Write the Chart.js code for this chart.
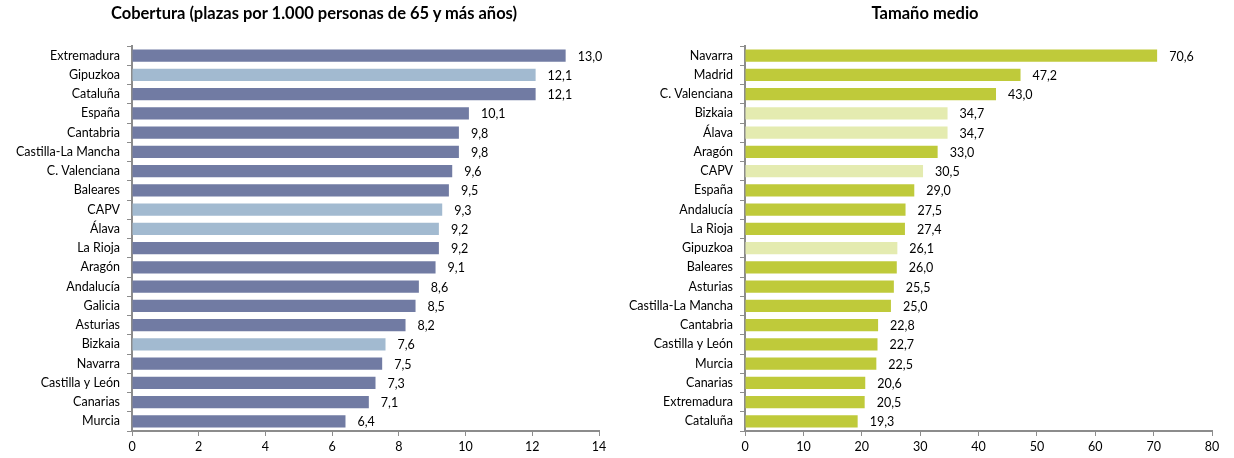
<!DOCTYPE html>
<html><head><meta charset="utf-8">
<script src="https://cdn.jsdelivr.net/npm/chart.js@4/dist/chart.umd.min.js"></script>
<style>
html,body{margin:0;padding:0;background:#fff;}
#wrap{position:relative;width:1234px;height:458px;overflow:hidden;}
.box{position:absolute;top:0;width:617px;height:458px;}
.title{position:absolute;top:3px;line-height:20px;font-family:Lato,"Open Sans",sans-serif;font-weight:bold;font-size:16.5px;color:#000;white-space:nowrap;transform:translateX(-50%);}
</style></head>
<body>
<div id="wrap">
  <div class="box" style="left:0"><canvas id="c1" width="617" height="458"></canvas></div>
  <div class="box" style="left:617px"><canvas id="c2" width="617" height="458"></canvas></div>
  <div class="title" style="left:314px">Cobertura (plazas por 1.000 personas de 65 y más años)</div>
  <div class="title" style="left:925px">Tamaño medio</div>
</div>
<script>
const coberturaLabels = ["Extremadura","Gipuzkoa","Cataluña","España","Cantabria","Castilla-La Mancha","C. Valenciana","Baleares","CAPV","Álava","La Rioja","Aragón","Andalucía","Galicia","Asturias","Bizkaia","Navarra","Castilla y León","Canarias","Murcia"];
const coberturaValues = [13.0,12.1,12.1,10.1,9.8,9.8,9.6,9.5,9.3,9.2,9.2,9.1,8.6,8.5,8.2,7.6,7.5,7.3,7.1,6.4];
const coberturaHighlight = ["Gipuzkoa","CAPV","Álava","Bizkaia"];
const coberturaTicks = [0,2,4,6,8,10,12,14];

const tamanoLabels = ["Navarra","Madrid","C. Valenciana","Bizkaia","Álava","Aragón","CAPV","España","Andalucía","La Rioja","Gipuzkoa","Baleares","Asturias","Castilla-La Mancha","Cantabria","Castilla y León","Murcia","Canarias","Extremadura","Cataluña"];
const tamanoValues = [70.6,47.2,43.0,34.7,34.7,33.0,30.5,29.0,27.5,27.4,26.1,26.0,25.5,25.0,22.8,22.7,22.5,20.6,20.5,19.3];
const tamanoHighlight = ["Bizkaia","Álava","CAPV","Gipuzkoa"];
const tamanoTicks = [0,10,20,30,40,50,60,70,80];

const FONT = 'Lato, "Open Sans", sans-serif';
const fmt = v => v.toFixed(1).replace('.', ',');

const valueLabels = {
  id: 'valueLabels',
  afterDatasetsDraw(chart) {
    const ctx = chart.ctx;
    const meta = chart.getDatasetMeta(0);
    const data = chart.data.datasets[0].data;
    ctx.save();
    ctx.font = '12.5px ' + FONT;
    ctx.fillStyle = '#000';
    ctx.textAlign = 'left';
    ctx.textBaseline = 'middle';
    meta.data.forEach((bar, i) => {
      ctx.fillText(fmt(data[i]), bar.x + 12, bar.y + 1);
    });
    ctx.restore();
  }
};

function makeChart(id, labels, values, highlight, ticks, max, dark, light, yWidth, padRight) {
  const colors = labels.map(l => highlight.includes(l) ? light : dark);
  new Chart(document.getElementById(id), {
    type: 'bar',
    data: { labels, datasets: [{ data: values, backgroundColor: colors, borderWidth: 0, categoryPercentage: 1, barPercentage: 0.63 }] },
    options: {
      indexAxis: 'y',
      responsive: false,
      animation: false,
      layout: { padding: { top: 46, right: padRight, left: 0, bottom: 0 } },
      plugins: { legend: { display: false }, tooltip: { enabled: false } },
      scales: {
        x: {
          min: 0, max: max,
          afterBuildTicks: ax => { ax.ticks = ticks.map(v => ({ value: v })); },
          afterFit: ax => { ax.height = 27; },
          grid: { drawOnChartArea: false, drawTicks: true, tickLength: 5, color: '#8c8c8c' },
          border: { color: '#8c8c8c', width: 2 },
          ticks: { color: '#000', font: { family: FONT, size: 12.5 }, padding: 3, maxRotation: 0 }
        },
        y: {
          afterFit: ax => { ax.width = yWidth; },
          grid: { drawOnChartArea: false, drawTicks: true, tickLength: 5, offset: true, color: '#8c8c8c' },
          border: { color: '#8c8c8c', width: 2 },
          ticks: { color: '#000', font: { family: FONT, size: 12.5 }, padding: 7, autoSkip: false }
        }
      }
    },
    plugins: [valueLabels]
  });
}

makeChart('c1', coberturaLabels, coberturaValues, coberturaHighlight, coberturaTicks, 14, '#717ba3', '#a2bad0', 132, 18);
makeChart('c2', tamanoLabels, tamanoValues, tamanoHighlight, tamanoTicks, 80, '#bfca3a', '#e4ebb0', 128, 22);
</script>
</body></html>
